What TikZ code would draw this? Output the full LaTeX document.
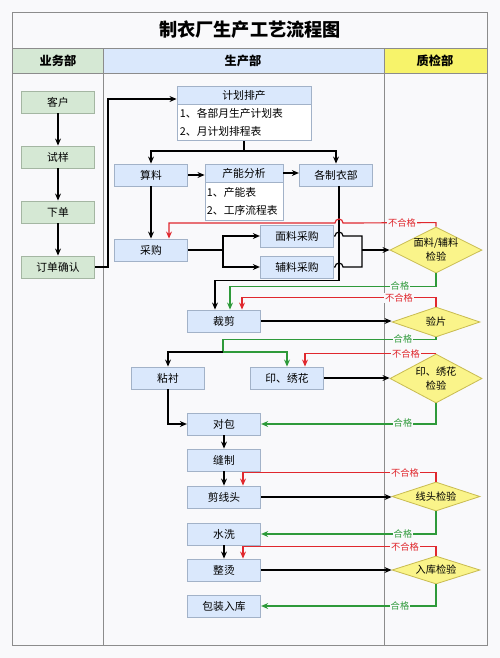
\documentclass[tikz,border=0pt]{standalone}
\usepackage{fontspec}
\setmainfont{Noto Sans CJK SC}
\usetikzlibrary{arrows.meta,shapes.geometric}
\definecolor{bg}{HTML}{F9F9FB}
\definecolor{frameline}{HTML}{8C8C8C}
\definecolor{ywfill}{HTML}{D5E8D4}
\definecolor{ywline}{HTML}{A4B6A2}
\definecolor{scfill}{HTML}{DAE8FC}
\definecolor{scline}{HTML}{A2B2C8}
\definecolor{zjfill}{HTML}{F7F36A}
\definecolor{dmfill}{HTML}{FAF48A}
\definecolor{dmline}{HTML}{C9BC52}
\definecolor{nokred}{HTML}{E0282E}
\definecolor{okgreen}{HTML}{2E9A3A}
\begin{document}
\begin{tikzpicture}[x=0.03cm, y=-0.03cm, line width=1pt,
  font=\fontsize{9.2}{11}\selectfont,
  sbox/.style={draw=scline, fill=scfill, line width=0.7pt, minimum width=2.2cm, minimum height=0.66cm, inner sep=0pt},
  ybox/.style={sbox, draw=ywline, fill=ywfill},
  lbox/.style={draw=scline, fill=white, line width=0.7pt, inner ysep=0pt, align=left, font=\fontsize{9.2}{15.4}\selectfont},
  qbox/.style={diamond, draw=dmline, fill=dmfill, line width=0.7pt, inner sep=0pt},
  qtxt/.style={align=center, inner sep=0pt, font=\fontsize{8.7}{12}\selectfont},
  hdr/.style={font=\fontsize{10.4}{12}\selectfont\bfseries},
  arr/.style={-{Stealth[length=6pt,width=5pt]}},
  okarr/.style={arr, draw=okgreen},
  nokarr/.style={arr, draw=nokred},
  oklbl/.style={fill=bg, inner sep=0.6pt, text=okgreen, font=\fontsize{7.9}{9}\selectfont},
  noklbl/.style={oklbl, text=nokred}]
\useasboundingbox (0,0) rectangle (500,658);
\fill[bg] (0,0) rectangle (500,658);

\fill[ywfill] (12,48) rectangle (103,73);
\fill[scfill] (103,48) rectangle (384,73);
\fill[zjfill] (384,48) rectangle (487,73);
\draw[frameline, line width=0.7pt] (12,12) rectangle (487,645);
\draw[frameline, line width=0.7pt] (12,48) -- (487,48);
\draw[frameline, line width=0.7pt] (12,73) -- (487,73);
\draw[frameline, line width=0.7pt] (103,48) -- (103,645);
\draw[frameline, line width=0.7pt] (384,48) -- (384,645);

\node[font=\fontsize{15.5}{18}\selectfont\bfseries] (title) at (250,30) {制衣厂生产工艺流程图};
\node[hdr] (h1) at (58,60.5) {业务部};
\node[hdr] (h2) at (243,60.5) {生产部};
\node[hdr] (h3) at (435,60.5) {质检部};

\node[ybox] (b1) at (58,102) {客户};
\node[ybox] (b2) at (58,157) {试样};
\node[ybox] (b3) at (58,212) {下单};
\node[ybox] (b4) at (58,267) {订单确认};

\node[sbox, minimum width=4.02cm, minimum height=0.54cm] (s0) at (244,95) {计划排产};
\node[lbox, anchor=north, minimum height=1.08cm, inner xsep=0.09cm, text width=3.84cm] (s0l) at (s0.south) {1、各部月生产计划表\\2、月计划排程表};

\node[sbox] (s1) at (151,175) {算料};
\node[sbox, minimum width=2.34cm, minimum height=0.54cm] (s2) at (244,173) {产能分析};
\node[lbox, anchor=north, minimum height=1.14cm, inner xsep=0.06cm, text width=2.22cm] (s2l) at (s2.south) {1、产能表\\2、工序流程表};
\node[sbox] (s3) at (336,175) {各制衣部};

\node[sbox] (s4) at (151,250) {采购};
\node[sbox] (s5) at (297,236) {面料采购};
\node[sbox] (s6) at (297,267) {辅料采购};
\node[sbox] (s7) at (224,321) {裁剪};
\node[sbox] (s8) at (168,378) {粘衬};
\node[sbox] (s9) at (287,378) {印、绣花};
\node[sbox] (s10) at (224,424) {对包};
\node[sbox] (s11) at (224,460) {缝制};
\node[sbox] (s12) at (224,497) {剪线头};
\node[sbox] (s13) at (224,534) {水洗};
\node[sbox] (s14) at (224,570) {整烫};
\node[sbox] (s15) at (224,606) {包装入库};

\node[qbox, minimum width=2.76cm, minimum height=1.38cm] (q1) at (436,250) {};
\node[qbox, minimum width=2.64cm, minimum height=0.9cm] (q2) at (436,322) {};
\node[qbox, minimum width=2.76cm, minimum height=1.47cm] (q3) at (436,378.5) {};
\node[qbox, minimum width=2.64cm, minimum height=0.87cm] (q4) at (436,496.5) {};
\node[qbox, minimum width=2.64cm, minimum height=0.84cm] (q5) at (436,570) {};
\node[qtxt] (q1t) at (q1) {面料/辅料\\检验};
\node[qtxt] (q2t) at (q2) {验片};
\node[qtxt] (q3t) at (q3) {印、绣花\\检验};
\node[qtxt] (q4t) at (q4) {线头检验};
\node[qtxt] (q5t) at (q5) {入库检验};

\coordinate (pj) at (244,151);
\coordinate (sj) at (223,250);
\coordinate (mj) at (362,250);
\coordinate (gj) at (223,352);

\draw[arr] (b1) -- (b2);
\draw[arr] (b2) -- (b3);
\draw[arr] (b3) -- (b4);
\draw[arr] (b4.east) -- ++(13,0) |- ([yshift=-0.12cm]s0.west);

\draw (s0l.south) -- (pj);
\draw[arr] (pj) -| (s1.north);
\draw[arr] (pj) -| (s3.north);
\draw[arr] (s1.east) -- (s1.east -| s2.west);
\draw[arr] (s2.east) -- (s2.east -| s3.west);
\draw[arr] (s1) -- (s4);

\draw (s4.east) -- (sj);
\draw[arr] (sj) |- (s5.west);
\draw[arr] (sj) |- (s6.west);
\draw (s5.east) -- (335,236) arc (180:360:4) -| (mj);
\draw (s6.east) -- (335,267) arc (180:360:4) -| (mj);
\draw[arr] (mj) -- (q1.west);
\draw[arr] ([xshift=0.09cm]s3.south) -- ++(0,94) -| ([xshift=-0.27cm]s7.north);

\draw[nokarr] (q1.north) -- ++(0,-4) -- (343,223) arc (0:-180:4) -| ([xshift=0.54cm]s4.north);
\draw[okarr] (q1.south) -- ++(0,13) -| ([xshift=0.18cm]s7.north);
\draw[nokarr] (q2.north) -- ++(0,-9) -| ([xshift=0.54cm]s7.north);
\draw[arr] (s7.east) -- (s7.east -| q2.west);

\draw[draw=okgreen] (q2.south) -- ++(0,2) -| (gj);
\draw[okarr] (gj) -| (s9.north);
\draw[arr] (gj) -| (s8.north);
\draw[nokarr] (q3.north) -| ([xshift=0.54cm]s9.north);
\draw[arr] (s9.east) -- (s9.east -| q3.west);
\draw[okarr] (q3.south) |- (s10.east);
\draw[arr] (s8.south) |- (s10.west);

\draw[arr] (s10) -- (s11);
\draw[arr] (s11) -- (s12);
\draw[nokarr] (q4.north) -- ++(0,-9) -| ([xshift=0.57cm]s12.north);
\draw[arr] (s12.east) -- (s12.east -| q4.west);
\draw[okarr] (q4.south) |- (s13.east);
\draw[arr] (s13) -- (s14);
\draw[nokarr] (q5.north) -- ++(0,-9) -| ([xshift=0.57cm]s14.north);
\draw[arr] (s14.east) -- (s14.east -| q5.west);
\draw[okarr] (q5.south) |- (s15.east);

\node[noklbl] (l1) at (402,223) {不合格};
\node[oklbl] (l2) at (400,286) {合格};
\node[noklbl] (l3) at (399,298) {不合格};
\node[oklbl] (l4) at (403,339) {合格};
\node[noklbl] (l5) at (406,354) {不合格};
\node[oklbl] (l6) at (403,423) {合格};
\node[noklbl] (l7) at (405,473) {不合格};
\node[oklbl] (l8) at (403,534) {合格};
\node[noklbl] (l9) at (405,547) {不合格};
\node[oklbl] (l10) at (400,606) {合格};
\end{tikzpicture}
\end{document}
